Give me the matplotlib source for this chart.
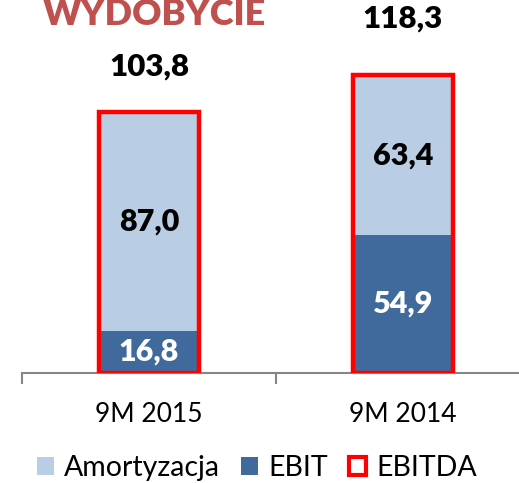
import matplotlib
matplotlib.use("Agg")
import matplotlib.pyplot as plt
from matplotlib.patches import Patch

categories = ["9M 2015", "9M 2014"]
ebit = [16.8, 54.9]
amortyzacja = [87.0, 63.4]
ebitda = [103.8, 118.3]
title = "WYDOBYCIE"
series_names = ["Amortyzacja", "EBIT", "EBITDA"]

c_light = "#B9CDE5"
c_dark = "#416A9C"
c_red = "#FF0000"
c_title = "#C0504D"

plt.rcParams['font.family'] = ['Lato', 'DejaVu Sans']

W, H = 519, 483
fig = plt.figure(figsize=(W / 100, H / 100), dpi=100)
ax = fig.add_axes([22 / W, (H - 373) / H, 508 / W, 373 / H])

x = list(range(len(categories)))
bw = 0.394
ax.bar(x, ebit, width=bw, color=c_dark, zorder=2)
ax.bar(x, amortyzacja, width=bw, bottom=ebit, color=c_light, zorder=2)
ax.bar(x, ebitda, width=bw, facecolor="none", edgecolor=c_red, linewidth=3.2, zorder=3)

ax.set_xlim(-0.5, 1.5)
ax.set_ylim(0, 373 / 2.515)

for i in x:
    ax.text(i, ebit[i] / 2, f"{ebit[i]:.1f}".replace(".", ","), ha="center", va="center",
            color="white", fontsize=22, fontweight="heavy", zorder=4)
    ax.text(i, ebit[i] + amortyzacja[i] / 2, f"{amortyzacja[i]:.1f}".replace(".", ","),
            ha="center", va="center", color="black", fontsize=22, fontweight="heavy", zorder=4)

label_offsets_px = [31, 43]
for i in x:
    ax.annotate(f"{ebitda[i]:.1f}".replace(".", ","), xy=(i, ebitda[i]),
                xytext=(0, label_offsets_px[i] * 0.72), textcoords="offset points",
                ha="center", va="bottom", fontsize=22.5, fontweight="heavy", color="black")

for s in ["top", "right", "left"]:
    ax.spines[s].set_visible(False)
ax.spines["bottom"].set_color("#868686")
ax.spines["bottom"].set_linewidth(1.5)
ax.set_yticks([])
ax.set_xticks(x)
ax.set_xticklabels(categories, fontsize=19)
ax.tick_params(axis="x", which="major", length=0, pad=21)
ax.set_xticks([-0.5, 0.5, 1.5], minor=True)
ax.tick_params(axis="x", which="minor", length=8, width=1.5, color="#868686")

fig.text(43 / W, 1 - 25 / H, title, color=c_title, fontsize=26, fontweight="heavy",
         ha="left", va="baseline")

handles = [Patch(facecolor=c_light, edgecolor="none"),
           Patch(facecolor=c_dark, edgecolor="none"),
           Patch(facecolor="white", edgecolor=c_red, linewidth=3)]
fig.legend(handles, series_names, loc="center", bbox_to_anchor=(257 / W, 1 - 468 / H),
           ncol=3, frameon=False, fontsize=20.5, handlelength=0.6, handleheight=0.6,
           handletextpad=0.35, columnspacing=0.75, borderaxespad=0, borderpad=0)

fig.savefig("out.png", dpi=100)
